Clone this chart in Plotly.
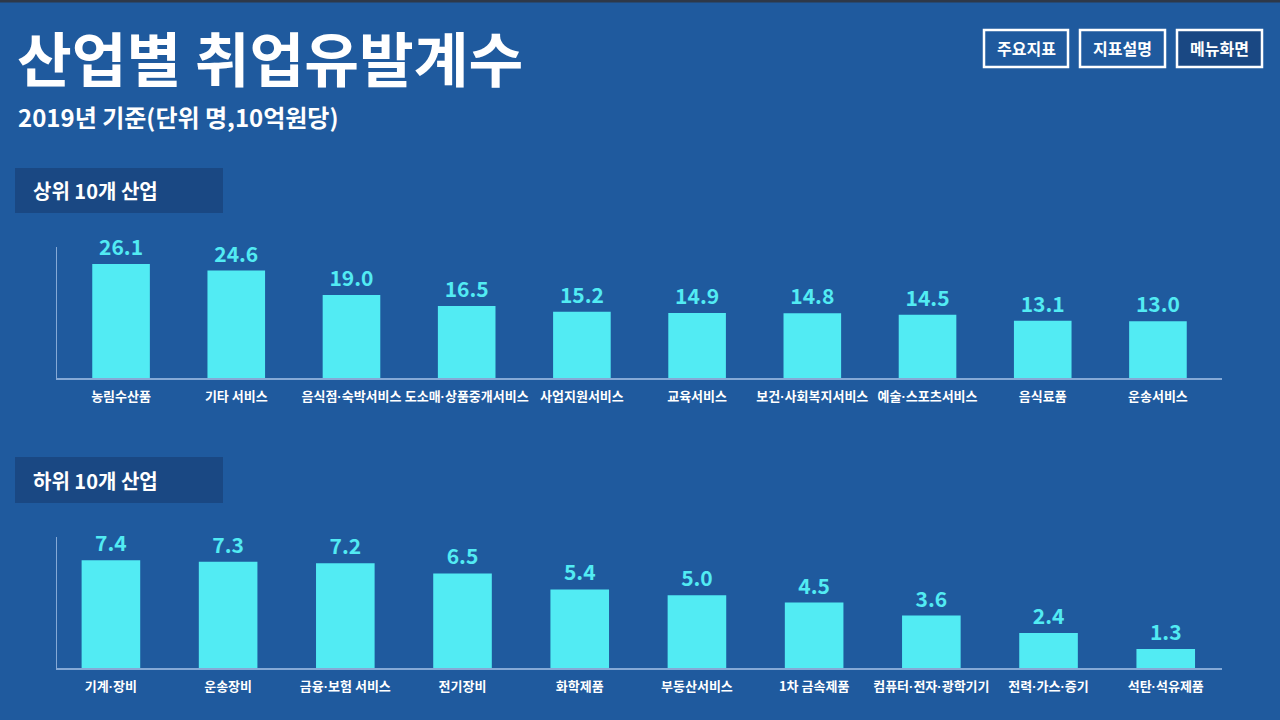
import plotly.graph_objects as go

# ---- data ----
top_categories = ["농림수산품", "기타 서비스", "음식점·숙박서비스", "도소매·상품중개서비스", "사업지원서비스",
                  "교육서비스", "보건·사회복지서비스", "예술·스포츠서비스", "음식료품", "운송서비스"]
top_values = [26.1, 24.6, 19.0, 16.5, 15.2, 14.9, 14.8, 14.5, 13.1, 13.0]

bottom_categories = ["기계·장비", "운송장비", "금융·보험 서비스", "전기장비", "화학제품",
                     "부동산서비스", "1차 금속제품", "컴퓨터·전자·광학기기", "전력·가스·증기", "석탄·석유제품"]
bottom_values = [7.4, 7.3, 7.2, 6.5, 5.4, 5.0, 4.5, 3.6, 2.4, 1.3]

title_text = "산업별 취업유발계수"
subtitle_text = "2019년 기준(단위 명,10억원당)"
section_titles = ["상위 10개 산업", "하위 10개 산업"]
buttons = ["주요지표", "지표설명", "메뉴화면"]

# ---- style ----
W, H = 1280, 720
BG = "#1f5a9e"
BOX = "#1a4883"
BAR = "#52ebf3"
AXIS = "#85a9d6"
FONT = "Noto Sans CJK KR"

def px_x(x):
    return x / W

def px_y(y):
    return 1 - y / H

def tick_label(s):
    # render the middle dot with a narrow latin font
    return s.replace("·", "<span style='font-family:Liberation Sans'>·</span>")

fig = go.Figure()

fig.add_trace(go.Bar(
    x=top_categories, y=top_values, xaxis="x", yaxis="y",
    marker=dict(color=BAR, line=dict(width=0)), width=0.5,
    text=[f"{v:.1f}" for v in top_values], textposition="outside",
    textfont=dict(color=BAR, size=21, family=FONT, weight="bold"),
    cliponaxis=False, hoverinfo="skip",
))
fig.add_trace(go.Bar(
    x=bottom_categories, y=bottom_values, xaxis="x2", yaxis="y2",
    marker=dict(color=BAR, line=dict(width=0)), width=0.5,
    text=[f"{v:.1f}" for v in bottom_values], textposition="outside",
    textfont=dict(color=BAR, size=21, family=FONT, weight="bold"),
    cliponaxis=False, hoverinfo="skip",
))

xcommon = dict(
    showline=True, linecolor=AXIS, linewidth=1.5, showgrid=False, zeroline=False,
    ticks="", tickangle=0, ticklabelstandoff=6,
    tickfont=dict(color="white", size=13, family=FONT, weight="bold"),
    fixedrange=True,
)
ycommon = dict(
    showline=True, linecolor=AXIS, linewidth=1, showgrid=False, zeroline=False,
    showticklabels=False, ticks="", fixedrange=True,
)

fig.update_layout(
    width=W, height=H,
    paper_bgcolor=BG, plot_bgcolor=BG,
    margin=dict(l=0, r=0, t=0, b=0),
    showlegend=False,
    font=dict(family=FONT, color="white"),
    xaxis=dict(domain=[px_x(57), px_x(1222)], anchor="y", range=[-0.556, 9.556],
               tickmode="array", tickvals=top_categories,
               ticktext=[tick_label(c) for c in top_categories], **xcommon),
    yaxis=dict(domain=[px_y(378), px_y(247)], anchor="x", range=[0, 30], **ycommon),
    xaxis2=dict(domain=[px_x(57), px_x(1222)], anchor="y2", range=[-0.46, 9.48],
                tickmode="array", tickvals=bottom_categories,
                ticktext=[tick_label(c) for c in bottom_categories], **xcommon),
    yaxis2=dict(domain=[px_y(668), px_y(537)], anchor="x2", range=[0, 9], **ycommon),
)

shapes = []
annotations = []

# dark top strip
shapes.append(dict(type="rect", xref="paper", yref="paper", x0=0, x1=1, y0=px_y(2.5), y1=1,
                   fillcolor="#2e3848", line=dict(width=0), layer="above"))

# title & subtitle
annotations.append(dict(text=f"<b>{title_text}</b>", xref="paper", yref="paper",
                        x=px_x(15), y=px_y(55.5), xanchor="left", yanchor="middle", showarrow=False,
                        font=dict(size=59.5, color="white", family=FONT)))
annotations.append(dict(text=f"<b>{subtitle_text}</b>", xref="paper", yref="paper",
                        x=px_x(16), y=px_y(117), xanchor="left", yanchor="middle", showarrow=False,
                        font=dict(size=24, color="white", family=FONT)))

# section header boxes
for title, (y0, y1) in zip(section_titles, [(168, 213), (457, 503)]):
    shapes.append(dict(type="rect", xref="paper", yref="paper",
                       x0=px_x(15), x1=px_x(223), y0=px_y(y1), y1=px_y(y0),
                       fillcolor=BOX, line=dict(width=0), layer="below"))
    annotations.append(dict(text=f"<b>{title}</b>", xref="paper", yref="paper",
                            x=px_x(31), y=px_y((y0 + y1) / 2), xanchor="left", yanchor="middle",
                            showarrow=False, font=dict(size=20, color="white", family=FONT)))

# buttons
for label, (bx0, bx1), fill in zip(buttons, [(984, 1068), (1080, 1165), (1177, 1262)],
                                   [BG, BG, BOX]):
    shapes.append(dict(type="rect", xref="paper", yref="paper",
                       x0=px_x(bx0), x1=px_x(bx1), y0=px_y(67), y1=px_y(30),
                       fillcolor=fill, line=dict(color="white", width=2.5), layer="below"))
    annotations.append(dict(text=f"<b>{label}</b>", xref="paper", yref="paper",
                            x=px_x((bx0 + bx1) / 2), y=px_y(48.5), xanchor="center", yanchor="middle",
                            showarrow=False, font=dict(size=16, color="white", family=FONT)))

fig.update_layout(shapes=shapes, annotations=annotations)

fig.write_html("out.html", config={"displayModeBar": False},
               post_script="document.body.style.margin='0';document.body.style.overflow='hidden';")
